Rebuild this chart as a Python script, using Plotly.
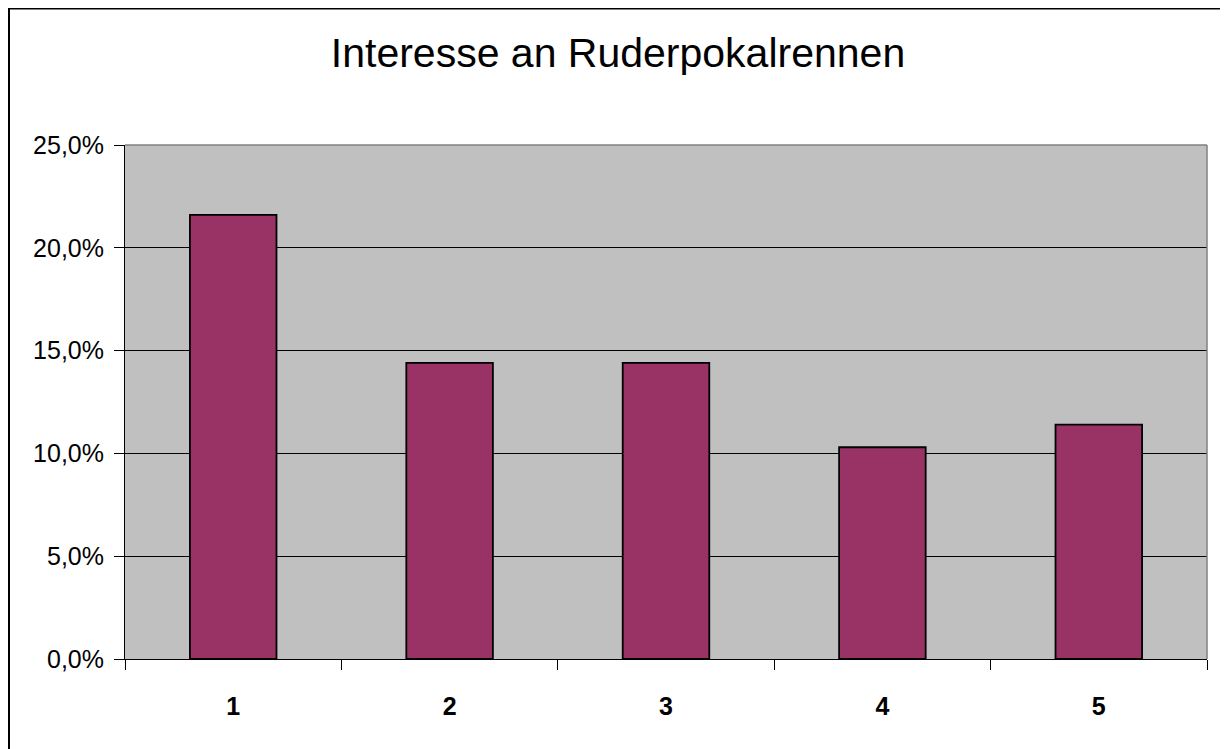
import plotly.graph_objects as go

categories = ["1", "2", "3", "4", "5"]
values = [0.216, 0.144, 0.144, 0.103, 0.114]
y_ticks = [0, 0.05, 0.10, 0.15, 0.20, 0.25]
title_text = "Interesse an Ruderpokalrennen"

# page has an 8px body margin, so the figure is drawn 8px smaller
W, H = 1220, 741
L, R, T, B = 117, 21, 137, 90
pw, ph = W - L - R, H - T - B

def px_x(p):
    return (p - L) / pw

def px_y(p):
    return (H - B - p) / ph

fig = go.Figure(
    go.Bar(
        x=categories,
        y=values,
        marker=dict(color="#993366", line=dict(color="black", width=1.8)),
        hoverinfo="x+y",
    )
)

fig.update_layout(
    width=W,
    height=H,
    margin=dict(l=L, r=R, t=T, b=B),
    paper_bgcolor="white",
    plot_bgcolor="#C0C0C0",
    bargap=0.6,
    separators=",.",
    showlegend=False,
    font=dict(family="Liberation Sans, Arial, sans-serif", color="black"),
    title=dict(
        text=title_text,
        font=dict(size=41, color="black", family="Liberation Sans, Arial, sans-serif"),
        x=0.5,
        xref="container",
        xanchor="center",
        y=1 - 45 / H,
        yref="container",
        yanchor="middle",
    ),
    xaxis=dict(
        type="category",
        showline=True,
        linecolor="black",
        linewidth=1,
        ticks="outside",
        tickson="boundaries",
        ticklen=10,
        tickcolor="black",
        tickwidth=1,
        showgrid=False,
        tickfont=dict(size=25, color="black", weight="bold"),
        ticklabelstandoff=25,
    ),
    yaxis=dict(
        range=[0, 0.25],
        tickvals=y_ticks,
        tickformat=".1%",
        showline=True,
        linecolor="black",
        linewidth=1,
        ticks="outside",
        ticklen=10,
        tickcolor="black",
        tickwidth=1,
        showgrid=True,
        gridcolor="black",
        gridwidth=1,
        zeroline=False,
        tickfont=dict(size=25, color="black"),
        ticklabelstandoff=5,
    ),
    shapes=[
        dict(type="line", xref="paper", yref="paper", x0=0, x1=1, y0=1, y1=1,
             line=dict(color="#808080", width=1.5), layer="above"),
        dict(type="line", xref="paper", yref="paper", x0=1, x1=1, y0=0, y1=1,
             line=dict(color="#808080", width=1.5), layer="above"),
        dict(type="rect", xref="paper", yref="paper",
             x0=px_x(1), x1=px_x(1219), y0=px_y(745), y1=px_y(0.5),
             line=dict(color="black", width=2), fillcolor="rgba(0,0,0,0)", layer="above"),
    ],
)

fig.write_html("out.html")
